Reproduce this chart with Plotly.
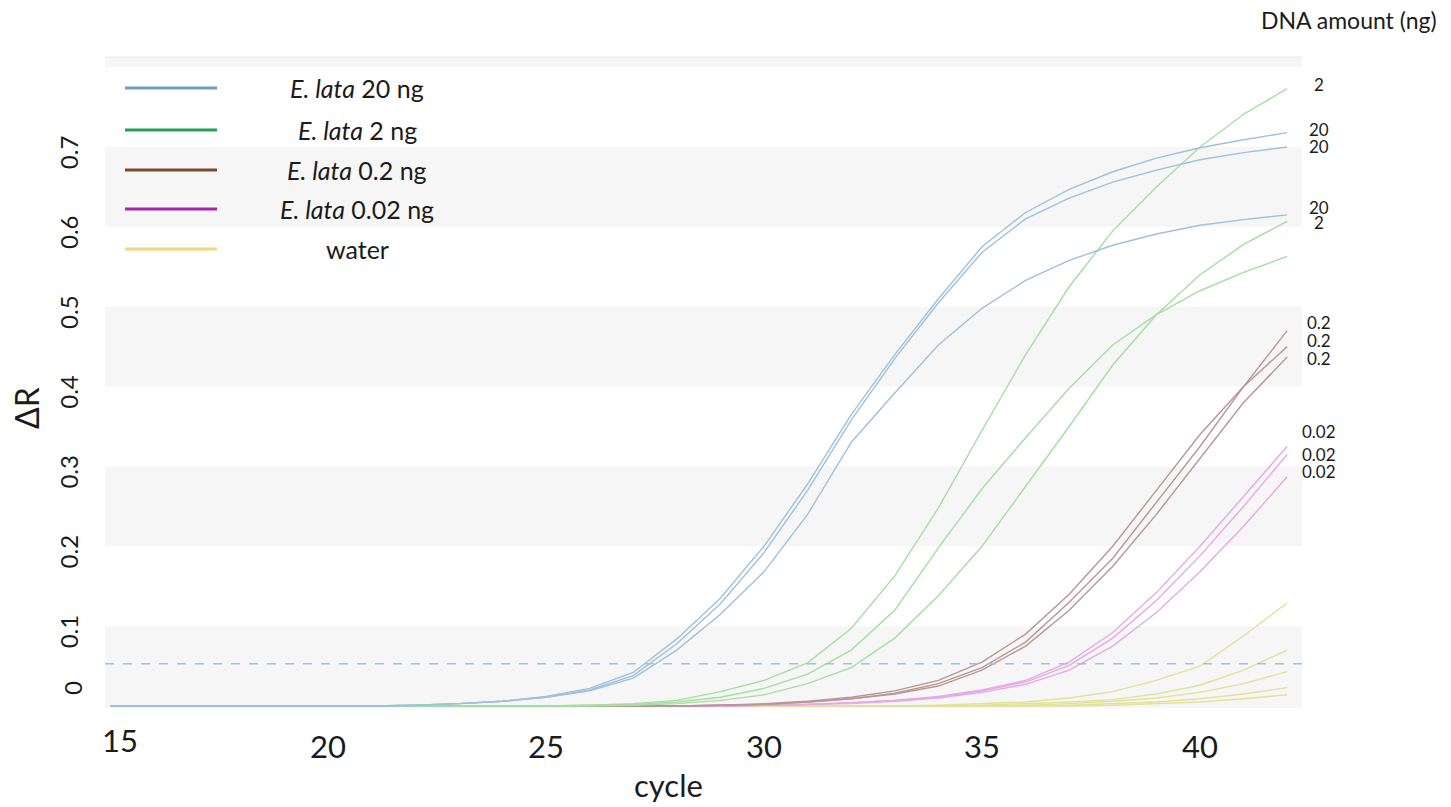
import plotly.graph_objects as go

# Amplification cycles on the x axis
CYCLES = list(range(15, 43))

# Delta R per cycle, E. lata 20 ng (three replicates)
E_LATA_20NG_R1 = [0, 0, 0, 0, 0, 0, 0, 0.001, 0.003, 0.006, 0.012, 0.022, 0.042, 0.084,
                  0.135, 0.200, 0.278, 0.365, 0.440, 0.510, 0.575, 0.618, 0.647, 0.669,
                  0.686, 0.699, 0.709, 0.718]
E_LATA_20NG_R2 = [0, 0, 0, 0, 0, 0, 0, 0.001, 0.003, 0.006, 0.011, 0.020, 0.038, 0.078,
                  0.128, 0.192, 0.270, 0.358, 0.435, 0.505, 0.568, 0.610, 0.636, 0.656,
                  0.671, 0.684, 0.693, 0.700]
E_LATA_20NG_R3 = [0, 0, 0, 0, 0, 0, 0, 0.001, 0.003, 0.006, 0.011, 0.019, 0.035, 0.070,
                  0.115, 0.168, 0.240, 0.330, 0.392, 0.452, 0.498, 0.533, 0.558, 0.577,
                  0.591, 0.602, 0.609, 0.615]

# E. lata 2 ng
E_LATA_2NG_R1 = [0, 0, 0, 0, 0, 0, 0, 0, 0, 0, 0, 0.001, 0.003, 0.007, 0.018, 0.032,
                 0.054, 0.097, 0.163, 0.248, 0.345, 0.440, 0.525, 0.595, 0.650, 0.700,
                 0.741, 0.773]
E_LATA_2NG_R2 = [0, 0, 0, 0, 0, 0, 0, 0, 0, 0, 0, 0.001, 0.002, 0.005, 0.011, 0.022,
                 0.040, 0.070, 0.120, 0.198, 0.272, 0.336, 0.398, 0.452, 0.490, 0.520,
                 0.543, 0.563]
E_LATA_2NG_R3 = [0, 0, 0, 0, 0, 0, 0, 0, 0, 0, 0, 0, 0.001, 0.003, 0.007, 0.014,
                 0.028, 0.048, 0.085, 0.138, 0.200, 0.275, 0.350, 0.427, 0.490, 0.540,
                 0.578, 0.607]

# E. lata 0.2 ng
E_LATA_02NG_R1 = [0, 0, 0, 0, 0, 0, 0, 0, 0, 0, 0, 0, 0, 0, 0.001, 0.002, 0.005, 0.009,
                  0.016, 0.028, 0.048, 0.080, 0.130, 0.185, 0.255, 0.325, 0.400, 0.470]
E_LATA_02NG_R2 = [0, 0, 0, 0, 0, 0, 0, 0, 0, 0, 0, 0, 0, 0, 0.001, 0.003, 0.006, 0.011,
                  0.019, 0.032, 0.055, 0.090, 0.140, 0.200, 0.270, 0.340, 0.400, 0.450]
E_LATA_02NG_R3 = [0, 0, 0, 0, 0, 0, 0, 0, 0, 0, 0, 0, 0, 0, 0.001, 0.002, 0.005, 0.009,
                  0.015, 0.025, 0.045, 0.075, 0.120, 0.175, 0.240, 0.310, 0.380, 0.437]

# E. lata 0.02 ng
E_LATA_002NG_R1 = [0, 0, 0, 0, 0, 0, 0, 0, 0, 0, 0, 0, 0, 0, 0, 0.001, 0.002, 0.004,
                   0.007, 0.012, 0.020, 0.032, 0.055, 0.092, 0.142, 0.200, 0.262, 0.325]
E_LATA_002NG_R2 = [0, 0, 0, 0, 0, 0, 0, 0, 0, 0, 0, 0, 0, 0, 0, 0.001, 0.002, 0.004,
                   0.007, 0.011, 0.019, 0.030, 0.051, 0.085, 0.132, 0.188, 0.250, 0.315]
E_LATA_002NG_R3 = [0, 0, 0, 0, 0, 0, 0, 0, 0, 0, 0, 0, 0, 0, 0, 0.001, 0.002, 0.003,
                   0.006, 0.010, 0.017, 0.027, 0.045, 0.075, 0.117, 0.168, 0.225, 0.287]

# No-template (water) controls
WATER_R1 = [0, 0, 0, 0, 0, 0, 0, 0, 0, 0, 0, 0, 0, 0, 0, 0, 0, 0, 0, 0.001, 0.003,
            0.005, 0.010, 0.018, 0.032, 0.050, 0.088, 0.129]
WATER_R2 = [0, 0, 0, 0, 0, 0, 0, 0, 0, 0, 0, 0, 0, 0, 0, 0, 0, 0, 0, 0, 0.001,
            0.003, 0.005, 0.008, 0.015, 0.026, 0.045, 0.070]
WATER_R3 = [0, 0, 0, 0, 0, 0, 0, 0, 0, 0, 0, 0, 0, 0, 0, 0, 0, 0, 0, 0, 0,
            0.001, 0.003, 0.006, 0.010, 0.017, 0.028, 0.043]
WATER_R4 = [0, 0, 0, 0, 0, 0, 0, 0, 0, 0, 0, 0, 0, 0, 0, 0, 0, 0, 0, 0, 0,
            0, 0.001, 0.003, 0.005, 0.009, 0.015, 0.023]
WATER_R5 = [0, 0, 0, 0, 0, 0, 0, 0, 0, 0, 0, 0, 0, 0, 0, 0, 0, 0, 0, 0, 0,
            0, 0, 0.001, 0.003, 0.005, 0.009, 0.014]

THRESHOLD = 0.053

GROUP_NAMES = ["<i>E. lata</i> 20 ng", "<i>E. lata</i> 2 ng", "<i>E. lata</i> 0.2 ng",
               "<i>E. lata</i> 0.02 ng", "water"]

Y_TICKS = [0.1, 0.2, 0.3, 0.4, 0.5, 0.6, 0.7]
X_TICKS = [20, 25, 30, 35, 40]

FONT = "Lato, 'Open Sans', sans-serif"
INK = "#1b1b1b"

line_colors = ["#9dc1de", "#a4dfa0", "#b99696", "#e7a7e8", "#e2e29a"]
key_colors = ["#6e9ec9", "#23a056", "#7a4a2a", "#a922b0", "#f1d67c"]

groups = [
    [E_LATA_20NG_R1, E_LATA_20NG_R2, E_LATA_20NG_R3],
    [E_LATA_2NG_R1, E_LATA_2NG_R2, E_LATA_2NG_R3],
    [E_LATA_02NG_R1, E_LATA_02NG_R2, E_LATA_02NG_R3],
    [E_LATA_002NG_R1, E_LATA_002NG_R2, E_LATA_002NG_R3],
    [WATER_R1, WATER_R2, WATER_R3, WATER_R4, WATER_R5],
]

fig = go.Figure()

# draw controls first so the amplified samples sit on top
for gi in reversed(range(len(groups))):
    for reps in groups[gi]:
        fig.add_trace(go.Scatter(
            x=CYCLES, y=reps, mode="lines", showlegend=False, hoverinfo="skip",
            line=dict(color=line_colors[gi], width=1.4),
        ))

# plot geometry (pixels)
W, H = 1451, 807
ML, MR, MT, MB = 105, 149, 57, 99
X_RANGE = [14.885, 42.34]
Y_RANGE = [-0.0025, 0.8127]

shapes = []
# alternating light bands between gridlines
for y0, y1 in [(Y_RANGE[0], 0.1), (0.2, 0.3), (0.4, 0.5), (0.6, 0.7), (0.8, Y_RANGE[1])]:
    shapes.append(dict(type="rect", xref="paper", yref="y", x0=0, x1=1, y0=y0, y1=y1,
                       fillcolor="#f6f6f6", line=dict(width=0), layer="below"))
shapes.append(dict(type="line", xref="paper", yref="paper", x0=0, x1=1, y0=1, y1=1,
                   line=dict(color="#e6e6e6", width=1)))
# Ct threshold
shapes.append(dict(type="line", xref="paper", yref="y", x0=0, x1=1, y0=THRESHOLD, y1=THRESHOLD,
                   line=dict(color="#9cc3e1", width=1.5, dash="dash")))

pw = W - ML - MR
ph = H - MT - MB


def px_x(p):
    return (p - ML) / pw


def px_y(p):
    return (H - MB - p) / ph


annotations = []
# custom key
key_rows = [88, 130, 170, 209, 249]
for gi, row in enumerate(key_rows):
    shapes.append(dict(type="line", xref="paper", yref="paper",
                       x0=px_x(125), x1=px_x(217), y0=px_y(row), y1=px_y(row),
                       line=dict(color=key_colors[gi], width=3)))
    annotations.append(dict(xref="paper", yref="paper", x=px_x(357), y=px_y(row),
                            text=GROUP_NAMES[gi], showarrow=False, xanchor="center",
                            yanchor="middle", font=dict(family=FONT, size=25, color=INK)))

# DNA amount labels at the end of the curves
end_labels = [
    (E_LATA_2NG_R1, "2", 4),
    (E_LATA_20NG_R1, "20", 3),
    (E_LATA_20NG_R2, "20", 1),
    (E_LATA_20NG_R3, "20", 7),
    (E_LATA_2NG_R3, "2", -1),
    (E_LATA_02NG_R1, "0.2", 8),
    (E_LATA_02NG_R2, "0.2", 6),
    (E_LATA_02NG_R3, "0.2", -1),
    (E_LATA_002NG_R1, "0.02", 15),
    (E_LATA_002NG_R2, "0.02", 0),
    (E_LATA_002NG_R3, "0.02", 5),
]
for series, txt, dy in end_labels:
    annotations.append(dict(x=CYCLES[-1], y=series[-1], xref="x", yref="y", text=txt,
                            showarrow=False, xanchor="center", yanchor="middle",
                            xshift=32, yshift=dy,
                            font=dict(family=FONT, size=17, color=INK)))

annotations += [
    dict(xref="paper", yref="paper", x=px_x(1349), y=px_y(20), text="DNA amount (ng)",
         showarrow=False, xanchor="center", yanchor="middle",
         font=dict(family=FONT, size=23, color=INK)),
    dict(xref="paper", yref="paper", x=px_x(26), y=px_y(408), text="ΔR", textangle=-90,
         showarrow=False, xanchor="center", yanchor="middle",
         font=dict(family=FONT, size=32, color=INK)),
    dict(xref="paper", yref="paper", x=px_x(668), y=px_y(785), text="cycle",
         showarrow=False, xanchor="center", yanchor="middle",
         font=dict(family=FONT, size=31, color=INK)),
    # first tick labels of each axis, nudged away from the corner
    dict(xref="paper", yref="y", x=px_x(72), y=0, yshift=18, text="0", textangle=-90,
         showarrow=False, xanchor="center", yanchor="middle",
         font=dict(family=FONT, size=24, color=INK)),
    dict(xref="x", yref="paper", x=15, y=px_y(740), xshift=10, text="15",
         showarrow=False, xanchor="center", yanchor="middle",
         font=dict(family=FONT, size=31, color=INK)),
]

fig.update_layout(
    width=W, height=H,
    margin=dict(l=ML, r=MR, t=MT, b=MB, autoexpand=False),
    paper_bgcolor="white", plot_bgcolor="white",
    showlegend=False,
    shapes=shapes,
    annotations=annotations,
    xaxis=dict(range=X_RANGE, tickvals=X_TICKS, showgrid=False, zeroline=False,
               showline=False, ticks="", ticklabelstandoff=18,
               tickfont=dict(family=FONT, size=31, color=INK)),
    yaxis=dict(range=Y_RANGE, tickvals=Y_TICKS, showgrid=False, zeroline=False,
               showline=False, ticks="", tickangle=-90, ticklabelstandoff=21,
               ticklabelshift=9,
               tickfont=dict(family=FONT, size=24, color=INK)),
)

fig.write_html("out.html")
